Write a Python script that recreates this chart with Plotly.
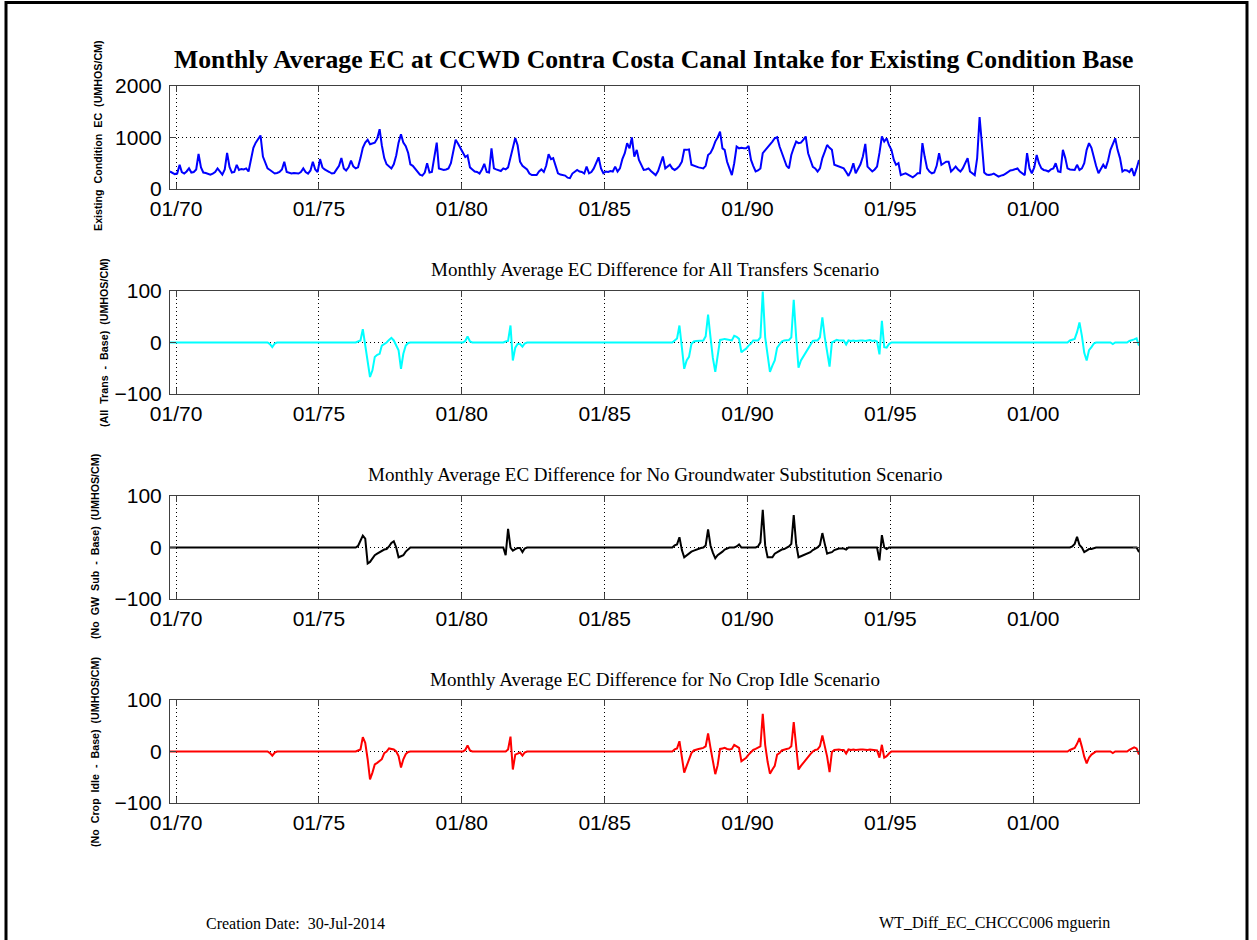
import pandas as pd
import plotly.graph_objects as go

# ---------------- DATA ----------------
# Monthly dates: Oct 1969 .. Sep 2003 (plotted mid-month)
months = pd.date_range("1969-10-01", "2003-09-01", freq="MS") + pd.Timedelta(days=14)

# Existing condition base EC (UMHOS/CM), Oct 1969 .. Sep 2003
ec_base = [
    340, 310, 290,                                                   # 1969 Oct-Dec
    300, 470, 330, 300, 340, 400, 320, 330, 380, 680, 420, 320,      # 1970
    310, 300, 280, 300, 330, 400, 330, 280, 380, 700, 430, 320,      # 1971
    330, 470, 370, 390, 380, 400, 340, 560, 800, 900, 960, 1040,     # 1972
    630, 500, 400, 370, 330, 300, 310, 330, 380, 530, 330, 310,      # 1973
    300, 310, 300, 300, 330, 400, 330, 300, 360, 530, 380, 330,      # 1974
    580, 420, 380, 360, 330, 300, 310, 380, 450, 600, 400, 360,      # 1975
    420, 550, 440, 400, 420, 600, 800, 900, 955, 870, 890, 900,      # 1976
    980, 1160, 850, 600, 480, 430, 400, 480, 650, 900, 1065, 900,    # 1977
    830, 700, 480, 450, 400, 330, 280, 260, 320, 500, 320, 330,      # 1978
    600, 900, 400, 380, 370, 380, 400, 500, 750, 955, 880, 800,      # 1979
    700, 620, 650, 420, 380, 340, 330, 300, 380, 490, 330, 320,      # 1980
    790, 400, 380, 360, 350, 400, 380, 420, 600, 800, 990, 850,      # 1981
    530, 450, 420, 380, 300, 270, 270, 270, 340, 380, 330, 450,      # 1982
    675, 580, 600, 450, 305, 280, 270, 260, 220, 210, 300, 330,      # 1983
    370, 340, 330, 300, 435, 305, 330, 400, 500, 615, 400, 305,      # 1984
    340, 330, 350, 340, 435, 340, 400, 580, 695, 890, 790, 1000,     # 1985
    630, 760, 565, 450, 370, 380, 400, 350, 300, 270, 350, 500,      # 1986
    630, 400, 430, 470, 400, 370, 400, 450, 530, 760, 760, 770,      # 1987
    470, 450, 435, 420, 410, 400, 450, 660, 700, 790, 920, 1000,     # 1988
    1115, 790, 760, 530, 400, 270, 500, 825, 790, 800, 790, 790,     # 1989
    835, 565, 450, 340, 360, 400, 695, 750, 800, 855, 920, 985,      # 1990
    1005, 825, 700, 565, 450, 400, 660, 800, 920, 890, 900, 955,     # 1991
    1020, 695, 550, 430, 400, 340, 400, 600, 725, 855, 800, 760,     # 1992
    470, 450, 435, 420, 400, 330, 255, 350, 500, 305, 400, 480,      # 1993
    630, 875, 435, 380, 340, 380, 435, 700, 1020, 920, 985, 850,     # 1994
    760, 565, 470, 500, 270, 290, 305, 280, 250, 225, 260, 305,      # 1995
    305, 890, 630, 400, 340, 305, 320, 450, 695, 470, 500, 530,      # 1996
    530, 340, 380, 435, 380, 340, 400, 500, 600, 340, 300, 270,      # 1997
    600, 1395, 900, 320, 280, 270, 280, 300, 270, 240, 260, 270,     # 1998
    300, 340, 360, 370, 390, 400, 340, 300, 270, 695, 400, 305,      # 1999
    420, 660, 500, 400, 370, 360, 340, 380, 400, 500, 340, 330,      # 2000
    760, 600, 400, 380, 370, 370, 470, 370, 400, 500, 760, 890,      # 2001
    800, 600, 450, 305, 400, 470, 400, 550, 760, 870, 985, 760,      # 2002
    600, 340, 370, 360, 330, 400, 255, 400, 565,                     # 2003 Jan-Sep
]

# Differences from base (Jan..Dec for years with non-zero values; other years are 0)
alltrans_diff = {
    1973: [0, 0, 0, -3, -9, -2, 0, 0, 0, 0, 0, 0],
    1976: [0, 0, 0, 0, 2, 4, 26, -3, -35, -67, -54, -28],
    1977: [-24, -22, -6, -3, 0, 5, 9, 4, -5, -15, -51, -22],
    1978: [-6, -1, 0, 0, 0, 0, 0, 0, 0, 0, 0, 0],
    1980: [0, 3, 12, 2, 0, 0, 0, 0, 0, 0, 0, 0],
    1981: [0, 0, 0, 0, 0, 0, 2, 3, 33, -35, -10, -3],
    1982: [-3, -8, -2, 0, 0, 0, 0, 0, 0, 0, 0, 0],
    1987: [0, 0, 0, 0, 0, 4, 8, 33, -10, -51, -35, -28],
    1988: [-3, 2, 3, 3, 3, 4, 12, 54, 10, -30, -57, -28],
    1989: [5, 6, 7, 6, 5, 4, 13, 11, 7, -19, -15, -12],
    1990: [-6, -2, 4, 4, 4, 10, 99, 10, -25, -57, -45, -35],
    1991: [-10, -3, 2, 4, 4, 5, 10, 83, 10, -49, -35, -28],
    1992: [-20, -12, -5, 3, 4, 4, 10, 49, 10, -20, -47, 0],
    1993: [3, 5, 4, 4, 4, -4, 4, 3, 4, 3, 4, 4],
    1994: [4, 3, 4, 5, 3, 4, 2, -23, 42, -9, -10, -3],
    2001: [0, 0, 0, 4, 5, 7, 20, 39, 13, -20, -35, -15],
    2002: [-9, -2, 0, 0, 0, 0, 0, 0, 0, -3, 0, 0],
    2003: [0, 0, 0, 0, 3, 4, 6, 8, -6, 0, 0, 0],
}

nogw_diff = {
    1976: [0, 0, 0, 0, 3, 13, 23, 17, -31, -28, -22, -15],
    1977: [-12, -9, -6, -4, -3, 2, 9, 12, 0, -19, -17, -15],
    1978: [-8, -3, 0, 0, 0, 0, 0, 0, 0, 0, 0, 0],
    1981: [0, 0, 0, 0, 0, 0, -15, 36, 0, -6, -3, -1],
    1982: [-1, -9, -2, 0, 0, 0, 0, 0, 0, 0, 0, 0],
    1987: [0, 0, 0, 0, 0, 4, 6, 20, -5, -19, -15, -12],
    1988: [-8, -6, -4, -3, -1, 0, 4, 35, 4, -10, -21, -15],
    1989: [-12, -8, -4, -2, 0, 0, 0, 2, 6, 0, 0, 0],
    1990: [0, 0, 0, 0, 2, 10, 73, 4, -19, -19, -19, -12],
    1991: [-9, -6, -4, -3, -1, 2, 7, 63, 7, -19, -17, -15],
    1992: [-12, -10, -9, -5, -3, 0, 5, 28, 7, -12, -10, -9],
    1993: [-5, -3, -2, -2, -2, -4, 0, 0, 0, 0, 0, 0],
    1994: [0, 0, 0, 0, 0, 0, 0, -25, 24, 0, -3, 0],
    2001: [0, 0, 0, 0, 2, 7, 21, 5, 0, -9, -6, -3],
    2002: [-3, -1, 0, 0, 0, 0, 0, 0, 0, 0, 0, 0],
    2003: [0, 0, 0, 0, 0, 0, 0, 0, -9, 0, 0, 0],
}

nocrop_diff = {
    1973: [0, 0, 0, -3, -8, -2, 0, 0, 0, 0, 0, 0],
    1976: [0, 0, 0, 0, 2, 4, 28, 17, -15, -54, -41, -25],
    1977: [-22, -18, -15, -3, 0, 6, 5, 4, 0, -9, -31, -15],
    1978: [-5, -1, 0, 0, 0, 0, 0, 0, 0, 0, 0, 0],
    1980: [0, 3, 12, 2, 0, 0, 0, 0, 0, 0, 0, 0],
    1981: [0, 0, 0, 0, 0, 0, 0, 4, 29, -35, -6, -4],
    1982: [-2, -8, -2, 0, 0, 0, 0, 0, 0, 0, 0, 0],
    1987: [0, 0, 0, 0, 0, 4, 6, 20, -10, -41, -28, -15],
    1988: [-3, 2, 4, 5, 6, 7, 10, 35, 7, -20, -44, -27],
    1989: [5, 6, 7, 5, 4, 5, 13, 10, 7, -19, -15, -12],
    1990: [-6, -2, 3, 5, 7, 10, 73, 13, -20, -43, -35, -28],
    1991: [-6, -3, 2, 4, 5, 6, 10, 57, 10, -35, -28, -22],
    1992: [-15, -10, -5, 0, 3, 4, 10, 31, 13, -10, -40, -1],
    1993: [3, 4, 4, 3, 3, -4, 4, 3, 4, 3, 4, 4],
    1994: [4, 3, 3, 4, 3, 3, 2, -12, 13, -12, -9, -4],
    2001: [0, 0, 0, 3, 5, 7, 15, 26, 9, -10, -23, -12],
    2002: [-6, -2, 0, 0, 0, 0, 0, 0, 0, -3, 0, 0],
    2003: [0, 0, 0, 0, 3, 5, 8, 6, -6, 0, 0, 0],
}

x_tick_dates = ["1970-01-01", "1975-01-01", "1980-01-01", "1985-01-01",
                "1990-01-01", "1995-01-01", "2000-01-01"]
x_tick_text = ["01/70", "01/75", "01/80", "01/85", "01/90", "01/95", "01/00"]

main_title = "Monthly Average EC at CCWD Contra Costa Canal Intake for Existing Condition Base"
sub_titles = [
    "Monthly Average EC Difference for All Transfers Scenario",
    "Monthly Average EC Difference for No Groundwater Substitution Scenario",
    "Monthly Average EC Difference for No Crop Idle Scenario",
]
y_titles = [
    "Existing  Condition  EC  (UMHOS/CM)",
    "(All  Trans  -  Base)  (UMHOS/CM)",
    "(No  GW  Sub  -  Base)  (UMHOS/CM)",
    "(No  Crop  Idle  -  Base)  (UMHOS/CM)",
]
footer_left = "Creation Date:  30-Jul-2014"
footer_right = "WT_Diff_EC_CHCCC006 mguerin"


def expand(events):
    return [events[d.year][d.month - 1] if d.year in events else 0 for d in months]


series = [
    (ec_base, "#0000FF", [0, 2000], [0, 1000, 2000]),
    (expand(alltrans_diff), "#00FFFF", [-100, 100], [-100, 0, 100]),
    (expand(nogw_diff), "#000000", [-100, 100], [-100, 0, 100]),
    (expand(nocrop_diff), "#FF0000", [-100, 100], [-100, 0, 100]),
]

# ---------------- LAYOUT ----------------
W, H = 1257, 940
x_left, x_right = 170, 1139
panels_px = [(86, 189), (291, 394), (496, 599), (700, 803)]
ylab_x = [98, 104, 95, 95]
ylab_y = [136, 343, 546, 752]
sub_title_y = [269, 474, 679]


def px(x):
    return x / W


def py(y):
    return 1 - y / H


fig = go.Figure()
axis_color = "#404040"
tick_font = dict(family="Liberation Sans, Arial, sans-serif", size=21, color="black")
serif = "Liberation Serif, Times New Roman, serif"

for i, (vals, color, yr, yt) in enumerate(series):
    n = i + 1
    xa = "x" if n == 1 else f"x{n}"
    ya = "y" if n == 1 else f"y{n}"
    fig.add_trace(go.Scatter(x=months, y=vals, mode="lines",
                             line=dict(color=color, width=2),
                             xaxis=xa, yaxis=ya, showlegend=False,
                             hoverinfo="skip"))
    top, bot = panels_px[i]
    xkey = "xaxis" if n == 1 else f"xaxis{n}"
    ykey = "yaxis" if n == 1 else f"yaxis{n}"
    common = dict(ticks="inside", ticklen=6, tickcolor=axis_color, tickwidth=1,
                  showline=True, linecolor=axis_color, linewidth=1, mirror="ticks",
                  showgrid=True, gridcolor="black", griddash="1px,3px", gridwidth=1,
                  zeroline=False, tickfont=tick_font, fixedrange=True, automargin=False)
    fig.update_layout(**{
        xkey: dict(domain=[px(x_left), px(x_right)], anchor=ya,
                   range=[months[0], months[-1]],
                   tickmode="array", tickvals=x_tick_dates, ticktext=x_tick_text,
                   ticklabelstandoff=1, **common),
        ykey: dict(domain=[py(bot), py(top)], anchor=xa,
                   range=yr, tickmode="array", tickvals=yt,
                   ticklabelstandoff=3, **common),
    })

annotations = [
    dict(text=f"<b>{main_title}</b>", x=px(654), y=py(60), xref="paper", yref="paper",
         showarrow=False, xanchor="center", yanchor="middle",
         font=dict(family=serif, size=25.7, color="black")),
]
for t, yy in zip(sub_titles, sub_title_y):
    annotations.append(dict(text=t, x=px(654.5), y=py(yy), xref="paper", yref="paper",
                            showarrow=False, xanchor="center", yanchor="middle",
                            font=dict(family=serif, size=19, color="black")))
for t, xx, yy in zip(y_titles, ylab_x, ylab_y):
    annotations.append(dict(text=f"<b>{t}</b>", x=px(xx), y=py(yy), xref="paper", yref="paper",
                            showarrow=False, xanchor="center", yanchor="middle", textangle=-90,
                            font=dict(family="Liberation Sans, Arial, sans-serif",
                                      size=10.7, color="black")))
annotations.append(dict(text=footer_left, x=px(204), y=py(923), xref="paper", yref="paper",
                        showarrow=False, xanchor="left", yanchor="middle",
                        font=dict(family=serif, size=16, color="black")))
annotations.append(dict(text=footer_right, x=px(1112), y=py(923), xref="paper", yref="paper",
                        showarrow=False, xanchor="right", yanchor="middle",
                        font=dict(family=serif, size=16, color="black")))

fig.update_layout(
    template="none",
    width=W, height=H, autosize=False,
    margin=dict(l=0, r=0, t=0, b=0, pad=0, autoexpand=False),
    paper_bgcolor="white", plot_bgcolor="white",
    showlegend=False,
    annotations=annotations,
    shapes=[dict(type="rect", xref="paper", yref="paper",
                 x0=px(6), x1=px(1247), y0=py(948), y1=py(2.5),
                 line=dict(color="black", width=3), fillcolor="rgba(0,0,0,0)")],
)

fig.write_html("out.html", config={"displayModeBar": False},
               post_script="document.body.style.margin='0px';"
                           "document.body.style.overflow='hidden';")
